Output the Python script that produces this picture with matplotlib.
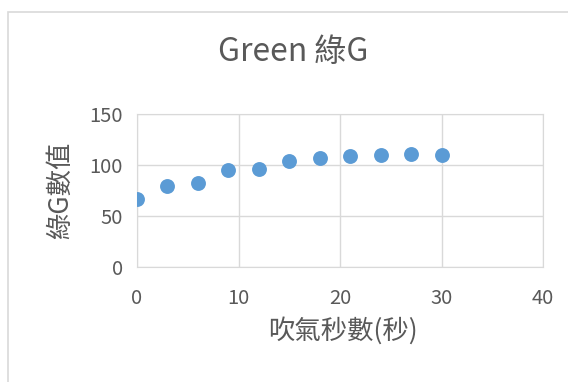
import matplotlib
matplotlib.use('Agg')
import matplotlib.pyplot as plt
from matplotlib.patches import Rectangle

plt.rcParams['font.family'] = ['Noto Sans CJK TC', 'DejaVu Sans']

# blowing time (s) and green channel reading
seconds = [0, 3, 6, 9, 12, 15, 18, 21, 24, 27, 30]
green = [67, 79, 82.5, 95, 96, 104, 107, 109, 110, 111, 110]

xticks = [0, 10, 20, 30, 40]
yticks = [0, 50, 100, 150]

txt = '#595959'
grid = '#d9d9d9'
W, H = 568, 382

fig = plt.figure(figsize=(W / 100, H / 100), dpi=100)
# chart frame
fig.patches.append(Rectangle((8 / W, -0.1), 1.2, 1 - 12 / H + 0.1,
                             transform=fig.transFigure, fill=False,
                             edgecolor=grid, linewidth=1.2))

ax = fig.add_axes([137 / W, 1 - 267 / H, 406 / W, 153 / H])
ax.scatter(seconds, green, s=115, color='#5B9BD5', zorder=3, linewidths=0)

ax.set_xlim(0, 40)
ax.set_ylim(0, 150)
ax.set_xticks(xticks)
ax.set_yticks(yticks)
ax.grid(True, color=grid, linewidth=1.0)
ax.set_axisbelow(True)
for sp in ax.spines.values():
    sp.set_color(grid)
ax.tick_params(length=0, labelsize=14.5, labelcolor=txt)
ax.tick_params(axis='x', pad=15)
ax.tick_params(axis='y', pad=10)

fig.text(293 / W, 1 - 52 / H, 'Green 綠G', fontsize=23, color=txt,
         ha='center', va='center')
fig.text(343 / W, 1 - 331 / H, '吹氣秒數(秒)', fontsize=19, color=txt,
         ha='center', va='center')
fig.text(61 / W, 1 - 190 / H, '綠G數值', fontsize=19, color=txt,
         ha='center', va='center', rotation=90)

fig.savefig('out.png', dpi=100)
